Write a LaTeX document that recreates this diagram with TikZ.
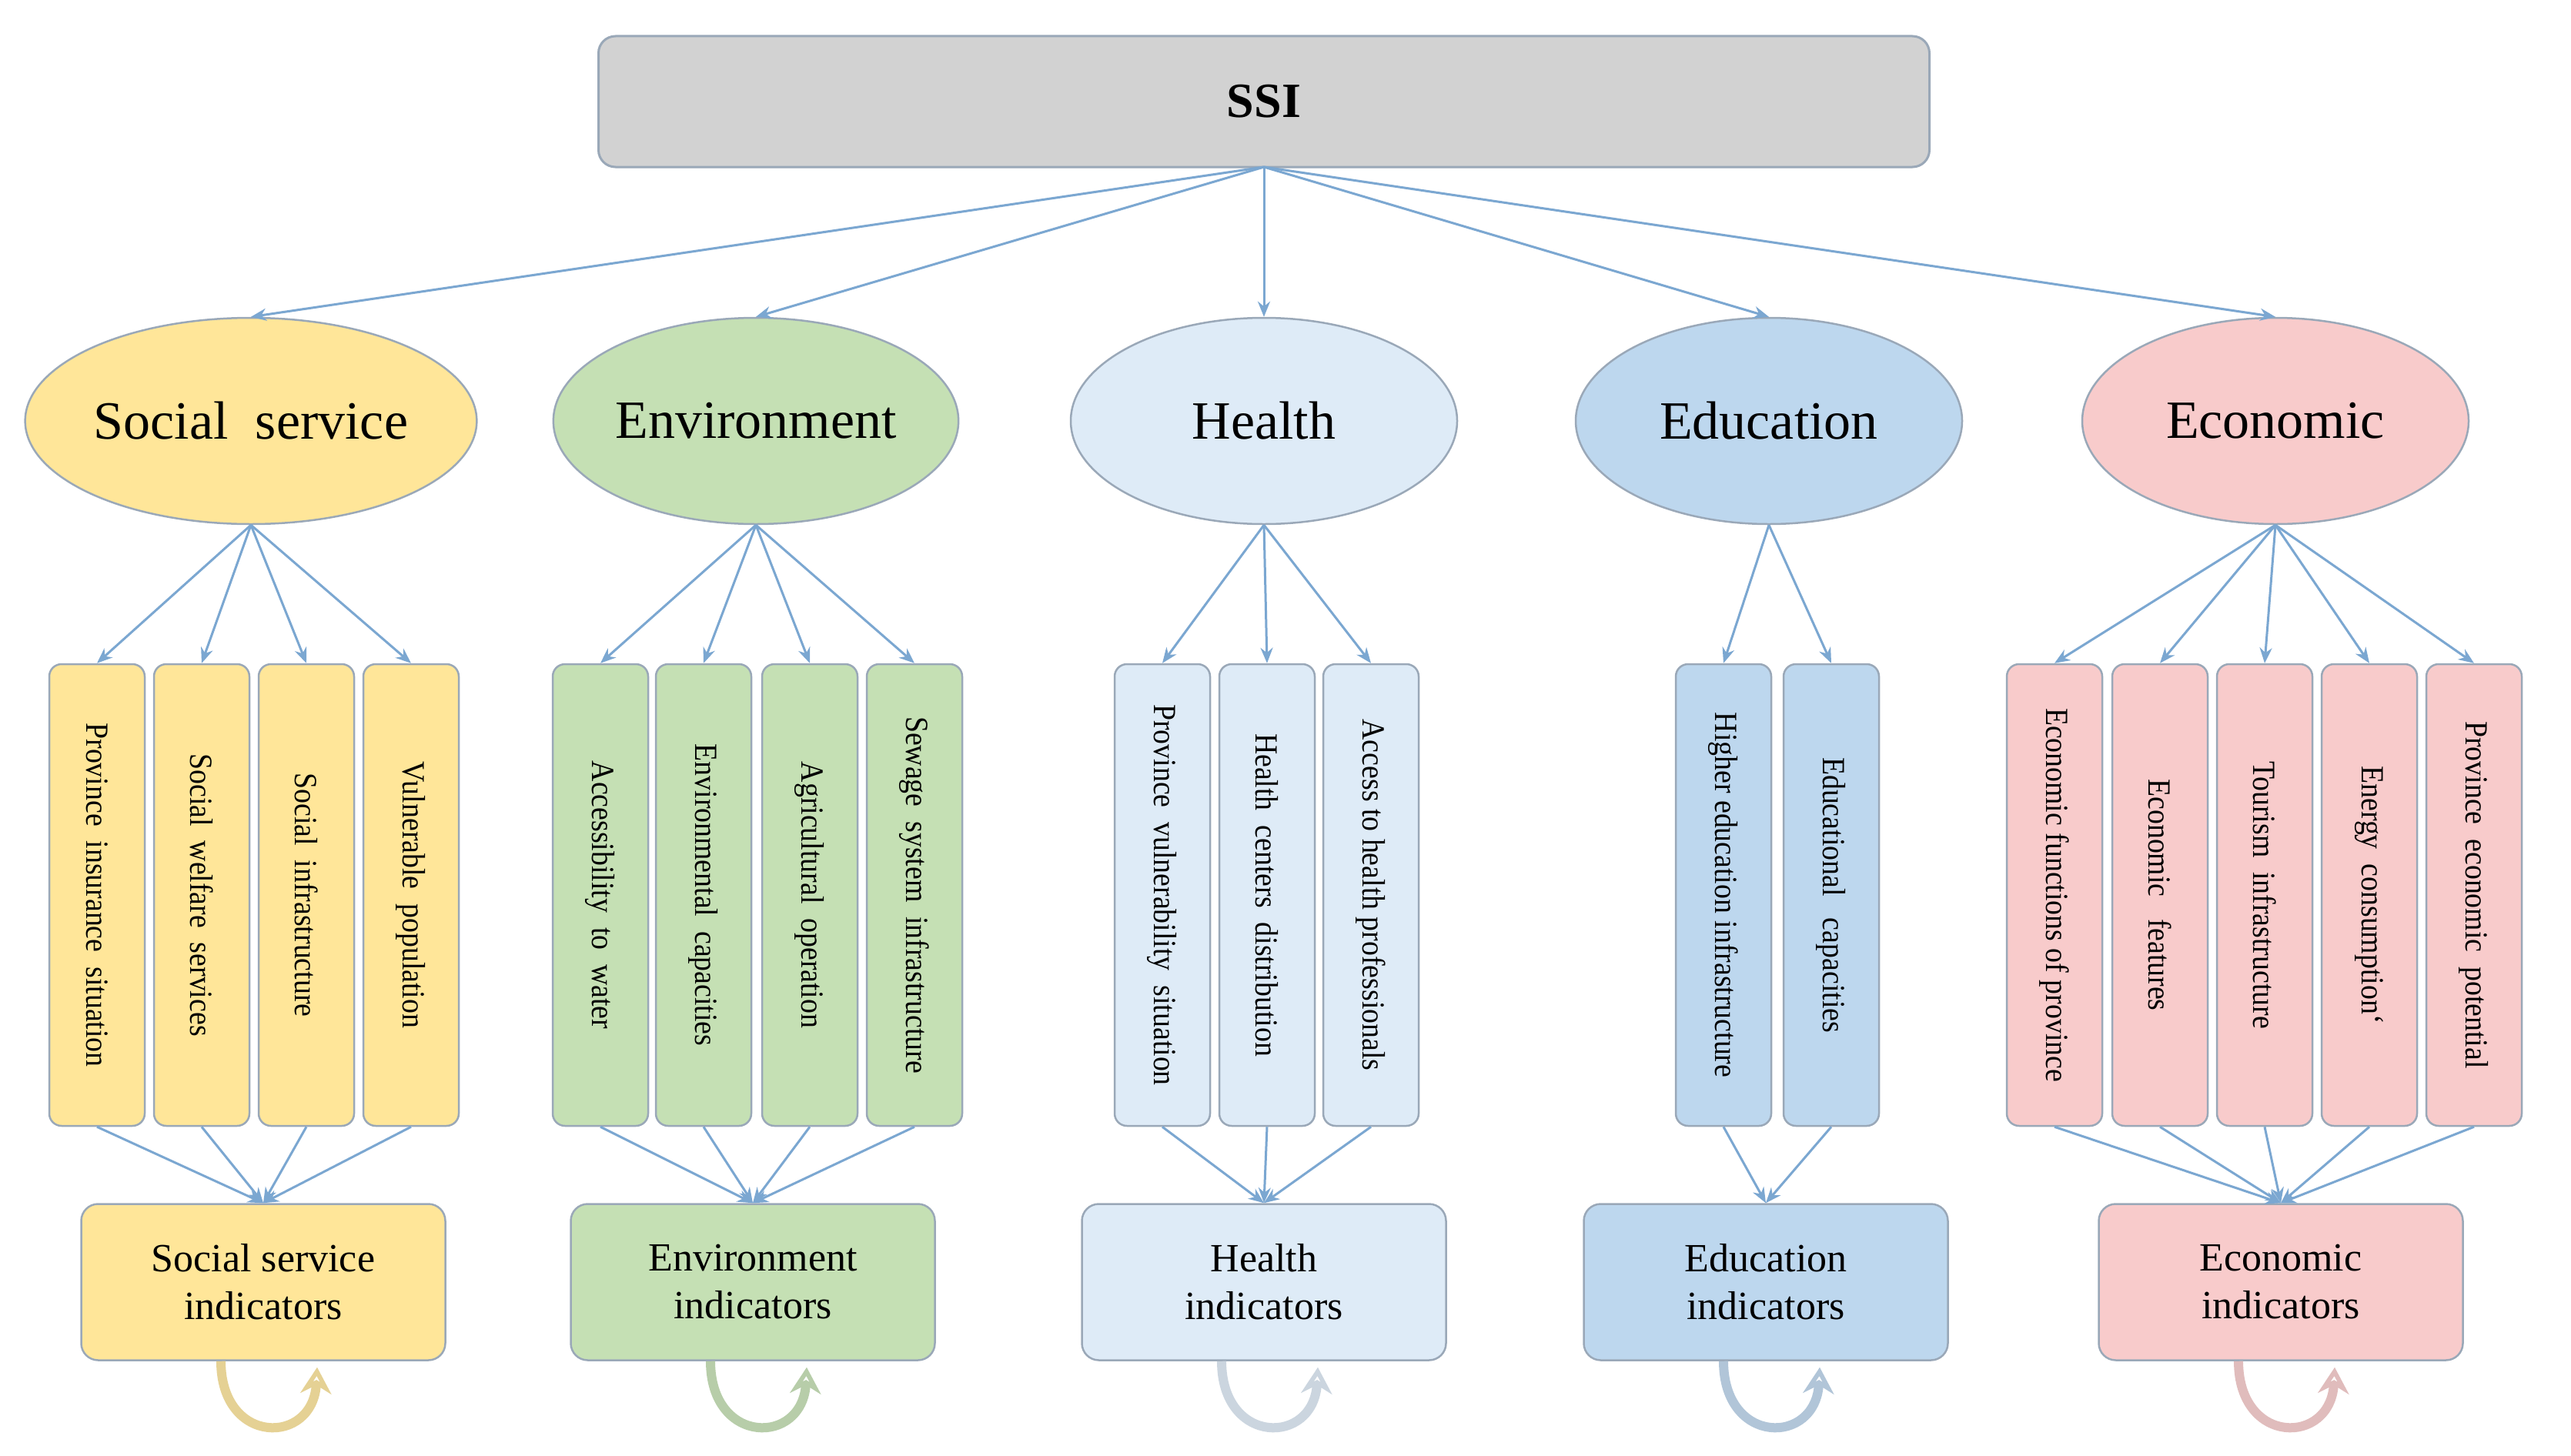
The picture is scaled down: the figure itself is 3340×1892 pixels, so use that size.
\documentclass[tikz,border=0pt]{standalone}
\usepackage{fontspec}
\setmainfont{Liberation Serif}
\usetikzlibrary{arrows.meta,shapes.geometric}
\definecolor{arr}{HTML}{7BA7D1}
\definecolor{edge}{HTML}{9AA8B8}
\definecolor{cA}{HTML}{FFE699}
\definecolor{cB}{HTML}{C5E0B4}
\definecolor{cC}{HTML}{DEEBF7}
\definecolor{cD}{HTML}{BDD7EE}
\definecolor{cE}{HTML}{F8CBCB}
\tikzset{
 ell/.style={ellipse,draw=edge,line width=2.5pt,minimum width=502pt,minimum height=268pt,font=\fontsize{70}{80}\selectfont},
 col/.style={draw=edge,line width=2.5pt,rounded corners=16pt,minimum width=124pt,minimum height=600pt},
 vt/.style={rotate=-90,font=\fontsize{42}{48}\selectfont,xscale=0.9},
 ind/.style={draw=edge,line width=2.5pt,rounded corners=22pt,minimum width=473pt,minimum height=203pt,align=center,font=\fontsize{52}{62}\selectfont},
 a/.style={draw=arr,line width=3pt,-{Stealth[length=20pt,width=16pt]}},
 loop/.style={line width=12pt,-{Stealth[open,length=34pt,width=40pt]}}
}
\begin{document}
\begin{tikzpicture}[x=1pt,y=-1pt]
\useasboundingbox[fill=white] (0,0) rectangle (3340,1892);
\node[draw=edge,fill=gray!35,line width=3pt,rounded corners=22pt,minimum width=1729pt,minimum height=170pt,font=\fontsize{64}{70}\selectfont\bfseries] (ssi) at (1642,132) {SSI};
\coordinate (s) at (1642,217);
% ellipses
\foreach \n/\x/\c/\t in {A/326/cA/{Social\ \ service},B/982/cB/Environment,C/1642/cC/Health,D/2298/cD/Education,E/2956/cE/Economic}{
 \node[ell,fill=\c] (\n) at (\x,547) {\t};
 \draw[a] (s) -- (\n.north);
}
% columns
\newcommand\mkcol[5]{% name x color text parent
 \node[col,fill=#3] (#1) at (#2,1163) {};
 \node[vt] at (#1.center) {#4};
 \draw[a] (#5.south) -- (#1.north);
}
\mkcol{A1}{126}{cA}{Province\ \ insurance\ \ situation}{A}
\mkcol{A2}{262}{cA}{Social\ \ welfare\ \ services}{A}
\mkcol{A3}{398}{cA}{Social\ \ infrastructure}{A}
\mkcol{A4}{534}{cA}{Vulnerable\ \ population}{A}
\mkcol{B1}{780}{cB}{Accessibility\ \ to\ \ water}{B}
\mkcol{B2}{914}{cB}{Environmental\ \ capacities}{B}
\mkcol{B3}{1052}{cB}{Agricultural\ \ operation}{B}
\mkcol{B4}{1188}{cB}{Sewage\ \ system\ \ infrastructure}{B}
\mkcol{C1}{1510}{cC}{Province\ \ vulnerability\ \ situation}{C}
\mkcol{C2}{1646}{cC}{Health\ \ centers\ \ distribution}{C}
\mkcol{C3}{1781}{cC}{Access to health professionals}{C}
\mkcol{D1}{2239}{cD}{Higher education infrastructure}{D}
\mkcol{D2}{2379}{cD}{Educational\ \ \ capacities}{D}
\mkcol{E1}{2669}{cE}{Economic functions of province}{E}
\mkcol{E2}{2806}{cE}{Economic\ \ \ features}{E}
\mkcol{E3}{2942}{cE}{Tourism\ \ infrastructure}{E}
\mkcol{E4}{3078}{cE}{Energy\ \ consumption`}{E}
\mkcol{E5}{3214}{cE}{Province\ \ economic\ \ potential}{E}
% indicator boxes
\foreach \n/\x/\c/\t in {A/342/cA/{Social service\\indicators},B/978/cB/{Environment\\indicators},C/1642/cC/{Health\\indicators},D/2294/cD/{Education\\indicators},E/2963/cE/{Economic\\indicators}}{
 \node[ind,fill=\c] (I\n) at (\x,1666) {\t};
 \draw[loop,draw=\c!80!gray] ([xshift=-55pt]I\n.south) .. controls ([xshift=-55pt,yshift=-110pt]I\n.south) and ([xshift=65pt,yshift=-110pt]I\n.south) .. ([xshift=70pt,yshift=-8pt]I\n.south);
}
\foreach \i in {A1,A2,A3,A4}{\draw[a] (\i.south) -- (IA.north);}
\foreach \i in {B1,B2,B3,B4}{\draw[a] (\i.south) -- (IB.north);}
\foreach \i in {C1,C2,C3}{\draw[a] (\i.south) -- (IC.north);}
\foreach \i in {D1,D2}{\draw[a] (\i.south) -- (ID.north);}
\foreach \i in {E1,E2,E3,E4,E5}{\draw[a] (\i.south) -- (IE.north);}
\end{tikzpicture}
\end{document}
